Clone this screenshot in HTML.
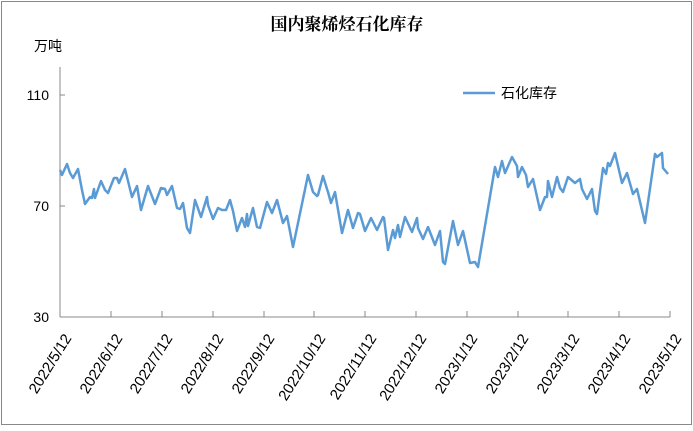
<!DOCTYPE html>
<html><head><meta charset="utf-8"><style>
body{margin:0;background:#fff;}
svg text{font-family:"Liberation Sans","Noto Sans CJK SC",sans-serif;}
</style></head><body>
<svg width="693" height="426" xmlns="http://www.w3.org/2000/svg">
<rect x="1.5" y="1.5" width="690" height="423" fill="#fff" stroke="#888" stroke-width="1"/>
<text x="347" y="30" text-anchor="middle" font-size="17" font-weight="bold" style="font-family:'Noto Serif CJK SC','Liberation Serif',serif">国内聚烯烃石化库存</text>
<text x="34" y="51" font-size="14">万吨</text>
<g font-size="14" text-anchor="end">
<text x="49" y="100">110</text>
<text x="49" y="211">70</text>
<text x="49" y="322">30</text>
</g>
<g stroke="#888" stroke-width="1" fill="none">
<line x1="60" y1="67" x2="60" y2="317"/>
<line x1="60" y1="317" x2="670" y2="317"/>
<line x1="60" y1="95" x2="65" y2="95"/>
<line x1="60" y1="206" x2="65" y2="206"/>
<path d="M111 317v-6M162 317v-6M213 317v-6M264 317v-6M314 317v-6M365 317v-6M416 317v-6M467 317v-6M518 317v-6M568 317v-6M619 317v-6M670 317v-6"/>
</g>
<g font-size="15" text-anchor="end" style="font-family:'Liberation Serif',serif">
<text transform="translate(72,338) rotate(-58)">2022/5/12</text>
<text transform="translate(123,338) rotate(-58)">2022/6/12</text>
<text transform="translate(173,338) rotate(-58)">2022/7/12</text>
<text transform="translate(224,338) rotate(-58)">2022/8/12</text>
<text transform="translate(275,338) rotate(-58)">2022/9/12</text>
<text transform="translate(326,338) rotate(-58)">2022/10/12</text>
<text transform="translate(377,338) rotate(-58)">2022/11/12</text>
<text transform="translate(427,338) rotate(-58)">2022/12/12</text>
<text transform="translate(478,338) rotate(-58)">2023/1/12</text>
<text transform="translate(529,338) rotate(-58)">2023/2/12</text>
<text transform="translate(580,338) rotate(-58)">2023/3/12</text>
<text transform="translate(631,338) rotate(-58)">2023/4/12</text>
<text transform="translate(682,338) rotate(-58)">2023/5/12</text>
</g>
<line x1="463" y1="93" x2="495" y2="93" stroke="#5b9bd5" stroke-width="2.5"/>
<text x="501" y="98" font-size="14">石化库存</text>
<polyline fill="none" stroke="#5b9bd5" stroke-width="2.5" stroke-linejoin="round" points="60,170 62,175 67,164 70,173 73,178 78,169 82,190 85,204 90,197 92,198 94,189 95,198 101,181 105,190 108,193 114,178 117,178 119,183 125,169 132,197 137,186 141,210 148,186 155,204 161,188 165,189 167,195 172,186 177,208 180,209 183,203 187,228 190,233 195,200 201,217 207,197 208,205 213,219 218,208 222,210 226,210 230,200 233,211 237,231 242,218 245,227 247,214 248,226 253,208 257,227 260,228 267,202 272,213 277,200 283,223 287,216 293,247 308,175 313,192 317,196 318,195 323,176 327,189 328,192 331,203 335,192 342,233 348,210 353,228 358,213 360,214 365,231 371,218 377,230 383,217 384,218 388,250 393,230 395,238 398,225 400,237 405,217 412,232 417,218 418,228 423,239 428,227 435,245 440,231 443,262 445,264 453,221 458,245 463,231 470,263 475,262 478,267 495,167 498,177 502,161 505,173 512,157 517,166 518,177 522,167 526,175 528,187 533,179 540,210 545,197 547,197 548,181 552,197 557,177 560,188 563,192 568,177 575,183 580,179 582,189 587,199 592,189 595,211 597,214 603,168 606,174 608,163 610,166 615,153 622,183 627,173 633,194 637,189 645,223 655,154 657,157 662,153 663,168 668,174"/>
</svg>
</body></html>
